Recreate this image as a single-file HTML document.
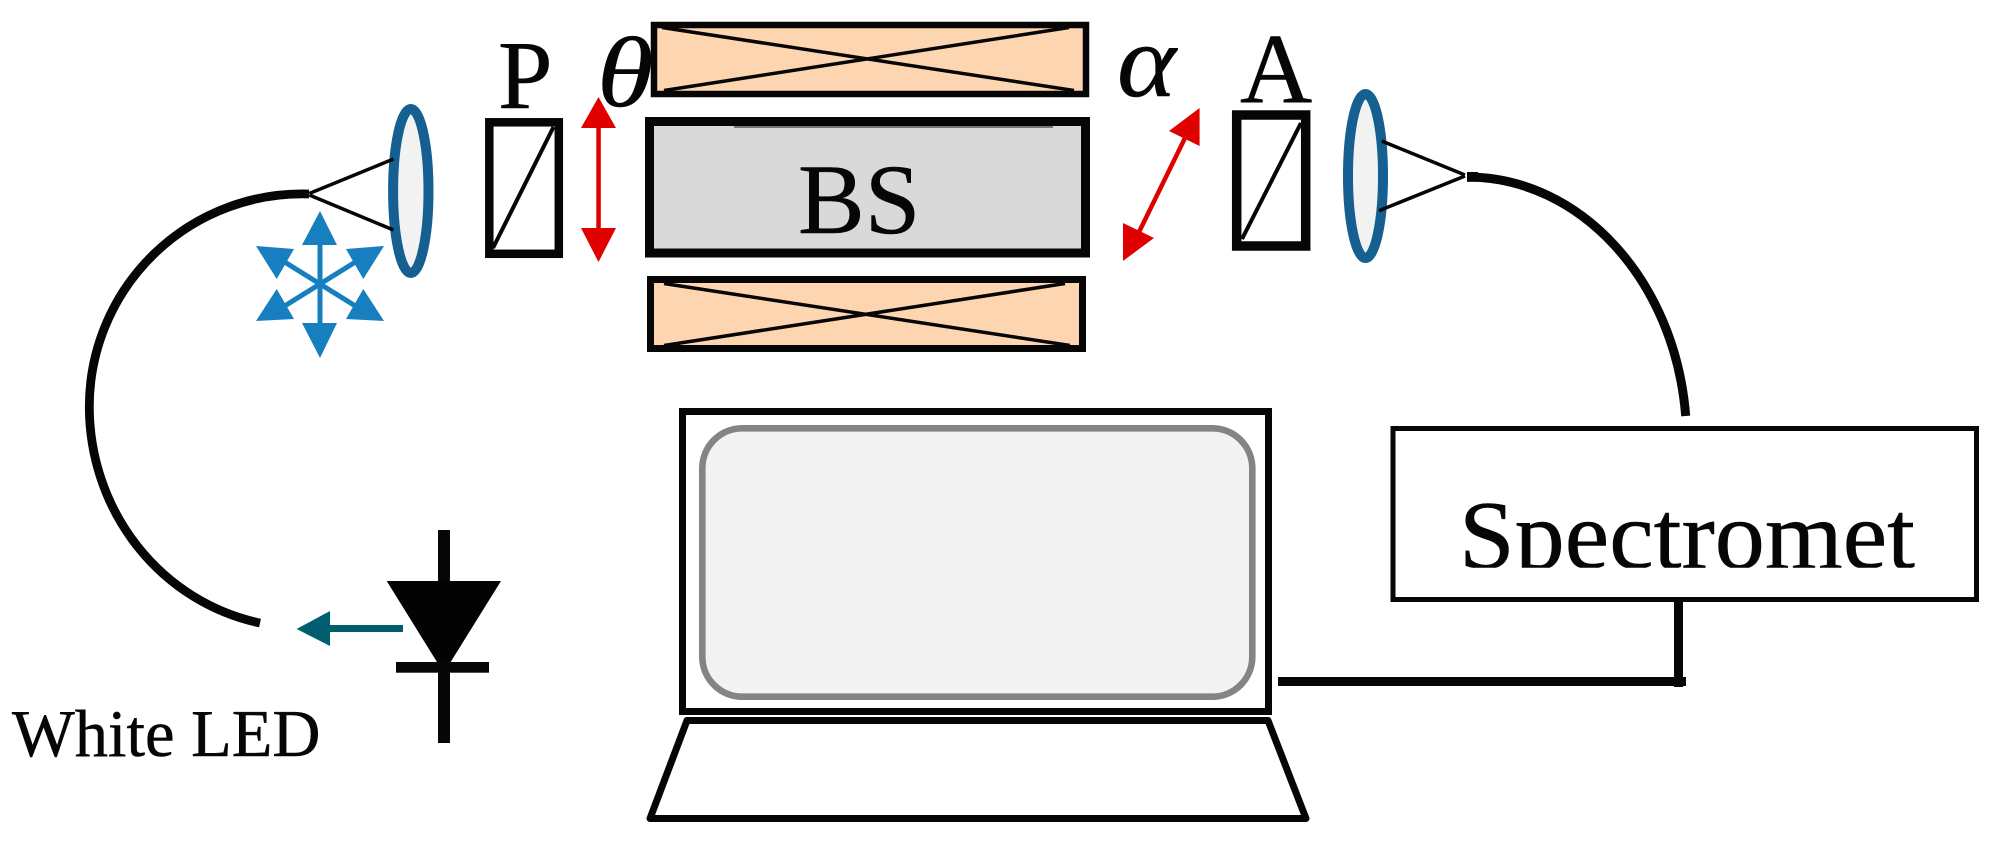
<!DOCTYPE html>
<html>
<head>
<meta charset="utf-8">
<title>Diagram</title>
<style>
html,body{margin:0;padding:0;background:#fff}
svg{display:block}
text{font-family:"Liberation Serif",serif;fill:#060606;stroke:#060606;stroke-width:.5}
</style>
</head>
<body>
<svg width="1991" height="845" viewBox="0 0 1991 845" xmlns="http://www.w3.org/2000/svg">
<defs>
<clipPath id="c"><rect x="1396" y="440" width="578" height="127.8"/></clipPath>
</defs>
<rect width="1991" height="845" fill="#fff"/>

<!-- left fibre -->
<path d="M309,194 A213,213 0 0 0 89.3,407 A213,221 0 0 0 260,623" fill="none" stroke="#060606" stroke-width="8.8"/>
<!-- left lens -->
<ellipse cx="410.8" cy="191" rx="17.7" ry="82" fill="#f2f2f2" stroke="#156090" stroke-width="10"/>
<path d="M309.3,193.5 L393.5,159 M309.3,195 L393.5,230" stroke="#060606" stroke-width="3.5" fill="none"/>

<!-- blue star -->
<g fill="#177fc0" stroke="none">
<polygon points="320,211 302,245 337,245"/>
<polygon points="320,358 302,323 337,323"/>
<polygon points="256,246 294,249 276.7,279"/>
<polygon points="384,246 346,249 363.3,279"/>
<polygon points="256,321 294,319 276.7,289"/>
<polygon points="384,321 346,319 363.3,289"/>
</g>
<path d="M320,240 V330 M283,261 L357,307 M357,261 L283,307" stroke="#177fc0" stroke-width="5" fill="none"/>

<!-- P -->
<text x="498" y="108" font-size="98">P</text>
<rect x="489.3" y="122.3" width="69.5" height="131.5" fill="#fff" stroke="#060606" stroke-width="8.5"/>
<path d="M553.5,127 L493,248" stroke="#060606" stroke-width="4" fill="none"/>

<!-- theta -->
<text transform="translate(597,106) scale(1.15,1)" font-size="100" font-style="italic">θ</text>

<!-- red arrow left -->
<polygon points="598.5,97 581,128 616,128" fill="#e00000"/>
<polygon points="598.5,262 581,228 616,228" fill="#e00000"/>
<rect x="596.3" y="125" width="4.5" height="106" fill="#e00000"/>

<!-- top coil -->
<rect x="654" y="25" width="432" height="69" fill="#fdd5b1" stroke="#060606" stroke-width="6.5"/>
<path d="M662,27.5 L1074,90.5 M1069,27.5 L664,90.5" stroke="#060606" stroke-width="3.5" fill="none"/>

<!-- BS -->
<rect x="649.5" y="121.5" width="436" height="131.5" fill="#d9d9d9" stroke="#060606" stroke-width="9"/>
<rect x="734" y="126" width="319" height="2" fill="#777"/>
<text x="798" y="233" font-size="100">BS</text>

<!-- bottom coil -->
<rect x="650.5" y="279.5" width="432" height="69" fill="#fdd5b1" stroke="#060606" stroke-width="7"/>
<path d="M664,283.5 L1070,345.5 M1065,283.5 L664,345.5" stroke="#060606" stroke-width="3.5" fill="none"/>

<!-- alpha -->
<text transform="translate(1117,96) scale(1.08,1)" font-size="104" font-style="italic">α</text>

<!-- red arrow right -->
<polygon points="1199.6,108 1169,131 1199.6,146" fill="#e00000"/>
<polygon points="1123,261 1123,223 1154,238" fill="#e00000"/>
<path d="M1185,138 L1139,232" stroke="#e00000" stroke-width="4.5" fill="none"/>

<!-- A -->
<text x="1240" y="102" font-size="100">A</text>
<rect x="1236.7" y="115" width="69" height="131" fill="#fff" stroke="#060606" stroke-width="9.5"/>
<path d="M1301,123 L1242,239" stroke="#060606" stroke-width="4" fill="none"/>

<!-- right lens -->
<ellipse cx="1365.5" cy="176" rx="17.5" ry="82" fill="#f2f2f2" stroke="#156090" stroke-width="10"/>
<path d="M1381.6,141 L1465,175 M1379,210.7 L1465,176" stroke="#060606" stroke-width="3.5" fill="none"/>

<!-- right fibre -->
<path d="M1467,177 C1580,177 1675,280 1685.7,416" fill="none" stroke="#060606" stroke-width="9"/>
<rect x="1467" y="172" width="11" height="9.8" fill="#060606"/>

<!-- spectrometer -->
<rect x="1393" y="428.5" width="583.5" height="171" fill="#fff" stroke="#060606" stroke-width="5"/>
<g clip-path="url(#c)"><text x="1459" y="568" font-size="97" textLength="456" lengthAdjust="spacingAndGlyphs">Spectromet</text></g>
<rect x="1674" y="602" width="9" height="85" fill="#060606"/>
<rect x="1278" y="677" width="408" height="9" fill="#060606"/>

<!-- laptop screen -->
<rect x="682.5" y="411.5" width="586" height="300" fill="#fff" stroke="#060606" stroke-width="7"/>
<rect x="702.3" y="428.3" width="550" height="268.4" rx="40" ry="40" fill="#f2f2f2" stroke="#848484" stroke-width="6.6"/>
<!-- keyboard -->
<polygon points="687,720.5 1268,720.5 1306,818.5 650,818.5" fill="#fff" stroke="#060606" stroke-width="7" stroke-linejoin="round"/>

<!-- LED -->
<rect x="438" y="530" width="12" height="213" fill="#060606"/>
<polygon points="386.7,581 501,581 443.8,673" fill="#030303"/>
<rect x="396" y="662" width="93" height="10.7" fill="#060606"/>
<rect x="328" y="625" width="75" height="7" fill="#005f6e"/>
<polygon points="296.6,629 330,611 330,646" fill="#005f6e"/>
<text x="12" y="756" font-size="66.5">White LED</text>
</svg>
</body>
</html>
